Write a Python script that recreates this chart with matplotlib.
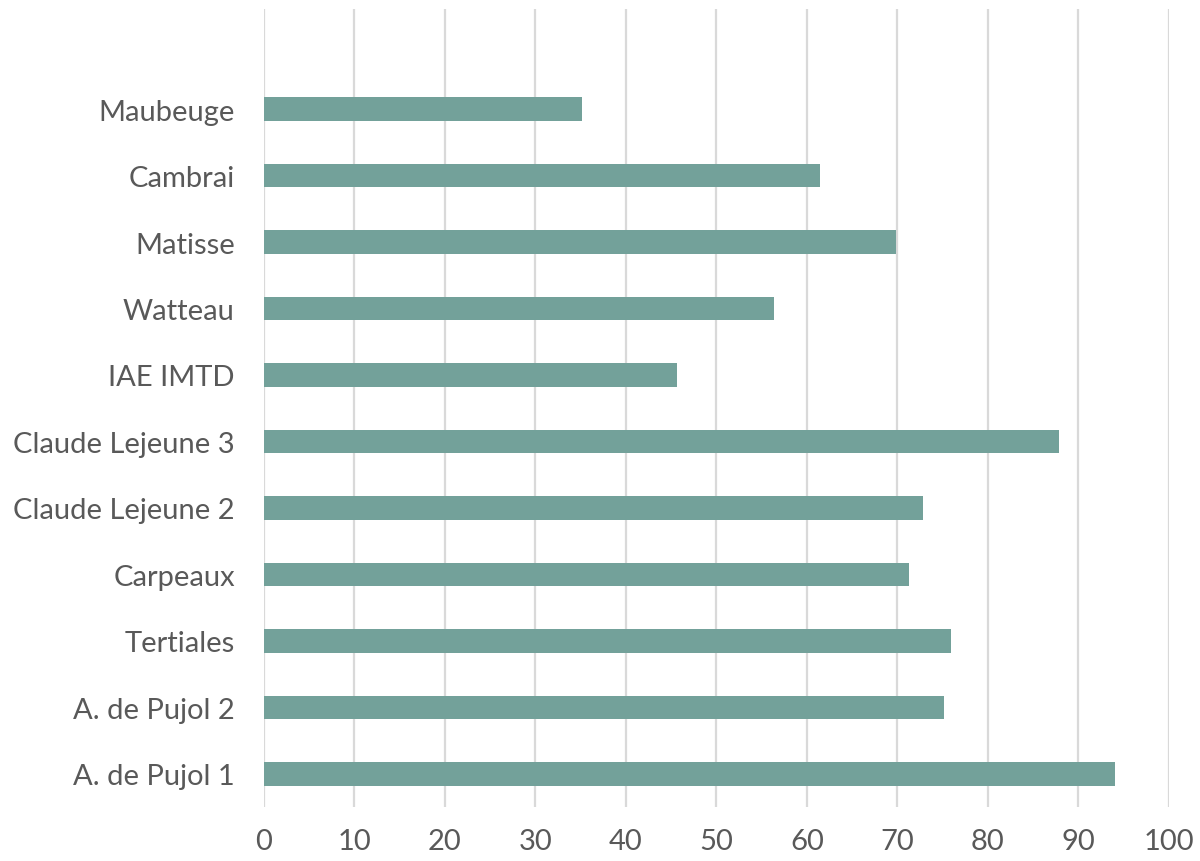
import matplotlib
matplotlib.use("Agg")
import matplotlib.pyplot as plt

categories = ["A. de Pujol 1", "A. de Pujol 2", "Tertiales", "Carpeaux",
              "Claude Lejeune 2", "Claude Lejeune 3", "IAE IMTD", "Watteau",
              "Matisse", "Cambrai", "Maubeuge"]
values = [94.0, 75.2, 75.9, 71.3, 72.8, 87.9, 45.7, 56.4, 69.9, 61.5, 35.2]
xticks = [0, 10, 20, 30, 40, 50, 60, 70, 80, 90, 100]

plt.rcParams['font.family'] = ['Lato', 'DejaVu Sans']

fig = plt.figure(figsize=(12, 8.62), dpi=100)
ax = fig.add_axes([0.22, 0.0625, 0.754, 0.9255])

pos = list(range(len(categories)))
ax.barh(pos, values, height=0.35, color="#73a19a", zorder=3)

ax.set_xlim(0, 100)
ax.set_ylim(-0.5, 11.5)
ax.set_xticks(xticks)
ax.set_xticklabels([str(t) for t in xticks])
ax.set_yticks(pos)
ax.set_yticklabels(categories)
ax.grid(axis='x', color="#d9d9d9", linewidth=1.6, zorder=0)
ax.tick_params(axis='both', length=0, labelsize=21, labelcolor="#595959")
ax.tick_params(axis='x', pad=15)
ax.tick_params(axis='y', pad=21)
for s in ax.spines.values():
    s.set_visible(False)

fig.savefig("out.png", dpi=100)
